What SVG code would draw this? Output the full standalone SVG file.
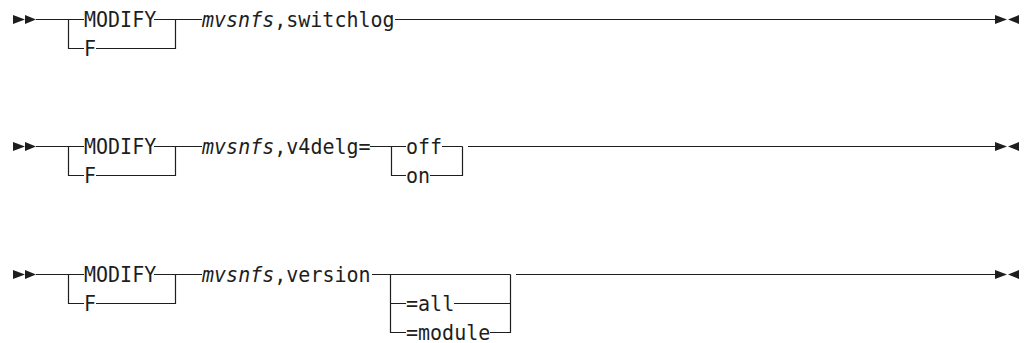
<svg xmlns="http://www.w3.org/2000/svg" width="1024" height="343" viewBox="0 0 1024 343">
  <style>
    .ln { fill: none; stroke: #1e1e1e; stroke-width: 1.2; }
    .mk { fill: #1e1e1e; stroke: none; }
    .kw { font-family: "DejaVu Sans Mono", "Liberation Mono", monospace; font-size: 21px; fill: #1e1e1e; }
    .var { font-style: italic; }
  </style>
  <defs>
    <!-- statement start: two filled right-pointing triangles -->
    <g id="start">
      <path class="mk" d="M0,-4.5 L12,0 L0,4.5 Z"/>
      <path class="mk" d="M12,-4.5 L23,0 L12,4.5 Z"/>
    </g>
    <!-- statement end: right- and left-pointing triangles meeting -->
    <g id="end">
      <path class="mk" d="M0,-4.5 L12,0 L0,4.5 Z"/>
      <path class="mk" d="M24,-4.5 L13,0 L24,4.5 Z"/>
    </g>
  </defs>

  <!-- Syntax 1: MODIFY mvsnfs,switchlog -->
  <g id="syntax-switchlog">
    <use href="#start" x="13" y="19.5"/>
    <g class="connectors">
      <path class="ln" d="M36,19.5 H84 M154,19.5 H202"/>
      <path class="ln" d="M68.5,19.5 V48.5 H84 M96,48.5 H175.5 V19.5"/>
      <path class="ln" d="M395,19.5 H995"/>
    </g>
    <g id="n1-modify"><text class="kw" x="84" y="27" textLength="72.2" lengthAdjust="spacingAndGlyphs">MODIFY</text></g>
    <g id="n1-f"><text class="kw" x="84" y="56" textLength="12" lengthAdjust="spacingAndGlyphs">F</text></g>
    <g id="n1-cmd"><text class="kw" x="202" y="27" textLength="192.6" lengthAdjust="spacingAndGlyphs"><tspan class="var">mvsnfs</tspan>,switchlog</text></g>
    <use href="#end" x="995" y="19.5"/>
  </g>

  <!-- Syntax 2: MODIFY mvsnfs,v4delg=off|on -->
  <g id="syntax-v4delg">
    <use href="#start" x="13" y="146.5"/>
    <g class="connectors">
      <path class="ln" d="M36,146.5 H84 M154,146.5 H202"/>
      <path class="ln" d="M68.5,146.5 V175.5 H84 M96,175.5 H175.5 V146.5"/>
      <path class="ln" d="M370,146.5 H406 M442,146.5 H462.5"/>
      <path class="ln" d="M391.5,146.5 V175.5 H406 M430,175.5 H462.5 V146.5"/>
      <path class="ln" d="M468,146.5 H995"/>
    </g>
    <g id="n2-modify"><text class="kw" x="84" y="154" textLength="72.2" lengthAdjust="spacingAndGlyphs">MODIFY</text></g>
    <g id="n2-f"><text class="kw" x="84" y="183" textLength="12" lengthAdjust="spacingAndGlyphs">F</text></g>
    <g id="n2-cmd"><text class="kw" x="202" y="154" textLength="168.6" lengthAdjust="spacingAndGlyphs"><tspan class="var">mvsnfs</tspan>,v4delg=</text></g>
    <g id="n2-off"><text class="kw" x="406" y="154" textLength="36.1" lengthAdjust="spacingAndGlyphs">off</text></g>
    <g id="n2-on"><text class="kw" x="406" y="183" textLength="24.1" lengthAdjust="spacingAndGlyphs">on</text></g>
    <use href="#end" x="995" y="146.5"/>
  </g>

  <!-- Syntax 3: MODIFY mvsnfs,version[=all|=module] -->
  <g id="syntax-version">
    <use href="#start" x="13" y="274.5"/>
    <g class="connectors">
      <path class="ln" d="M36,274.5 H84 M154,274.5 H202"/>
      <path class="ln" d="M68.5,274.5 V303.5 H84 M96,303.5 H175.5 V274.5"/>
      <path class="ln" d="M372,274.5 H510.5"/>
      <path class="ln" d="M390.5,274.5 V332.5 H406 M390.5,303.5 H406"/>
      <path class="ln" d="M454,303.5 H510.5 M490,332.5 H510.5 V274.5"/>
      <path class="ln" d="M516,274.5 H995"/>
    </g>
    <g id="n3-modify"><text class="kw" x="84" y="282" textLength="72.2" lengthAdjust="spacingAndGlyphs">MODIFY</text></g>
    <g id="n3-f"><text class="kw" x="84" y="311" textLength="12" lengthAdjust="spacingAndGlyphs">F</text></g>
    <g id="n3-cmd"><text class="kw" x="202" y="282" textLength="168.6" lengthAdjust="spacingAndGlyphs"><tspan class="var">mvsnfs</tspan>,version</text></g>
    <g id="n3-all"><text class="kw" x="406" y="311" textLength="48.2" lengthAdjust="spacingAndGlyphs">=all</text></g>
    <g id="n3-module"><text class="kw" x="406" y="340" textLength="84.3" lengthAdjust="spacingAndGlyphs">=module</text></g>
    <use href="#end" x="995" y="274.5"/>
  </g>
</svg>
